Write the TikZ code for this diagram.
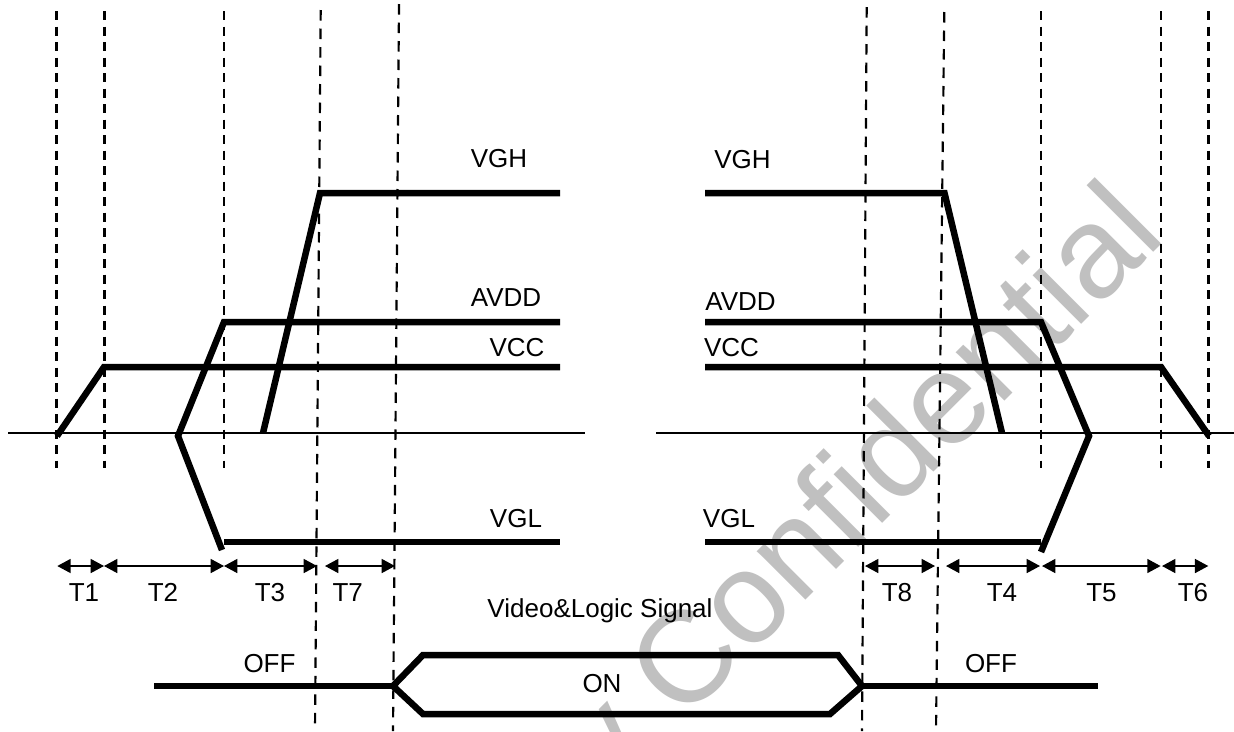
\documentclass[tikz,border=0pt]{standalone}
\usepackage{fontspec}
\setmainfont{Liberation Sans}
\usetikzlibrary{arrows.meta}
\begin{document}
\begin{tikzpicture}[x=0.6pt,y=-0.6pt,
  sig/.style={line width=3.9pt, line join=miter},
  baseln/.style={line width=0.9pt},
  guide/.style={line width=1.3pt, dash pattern=on 5.4pt off 3.9pt},
  longguide/.style={line width=1.3pt, dash pattern=on 6.3pt off 4.8pt},
  span/.style={line width=0.9pt, {Triangle[length=8pt,width=8.4pt]}-{Triangle[length=8pt,width=8.4pt]}},
  lbl/.style={font=\fontsize{15.6}{18}\selectfont, inner sep=0pt, anchor=base},
  wm/.style={font=\fontsize{78}{90}\selectfont, text=wmgray, inner sep=0pt}
]
\definecolor{wmgray}{RGB}{192,192,192}
\fill[white] (0,0) rectangle (1234,731);
\useasboundingbox (0,0) rectangle (1234,731);

% watermark
\begin{scope}
\clip (0,0) rectangle (1234,731);
\node[wm, rotate=45, anchor=base east] (wm) at (1168,238) {y Confidential};
\end{scope}

% short guide lines
\foreach \gx/\gn in {56.5/g1, 104.5/g2, 224/g3, 1040.7/g4, 1161/g5, 1208.5/g6}{
  \coordinate (\gn t) at (\gx,11);
  \coordinate (\gn b) at (\gx,468);
  \draw[guide] (\gn t) -- (\gn b);
}
% long guide lines
\coordinate (L1t) at (320.7,10);  \coordinate (L1b) at (315,731);
\coordinate (L2t) at (399,4);     \coordinate (L2b) at (393,731);
\coordinate (L3t) at (866.7,7);   \coordinate (L3b) at (862,731);
\coordinate (L4t) at (944.3,12);  \coordinate (L4b) at (936,731);
\draw[longguide] (L1t) -- (L1b);
\draw[longguide] (L2t) -- (L2b);
\draw[longguide] (L3t) -- (L3b);
\draw[longguide] (L4t) -- (L4b);

% zero baselines
\coordinate (z1) at (8,433);   \coordinate (z2) at (585,433);
\coordinate (z3) at (656,433); \coordinate (z4) at (1234,433);
\draw[baseln] (z1) -- (z2);
\draw[baseln] (z3) -- (z4);

% power-on waveforms
\draw[sig] (57,436) -- (104,367) -- (560,367);
\draw[sig] (560,322) -- (224,322) -- (178,436) -- (222,550);
\draw[sig] (224,542) -- (560,542);
\draw[sig] (263,433) -- (320,193) -- (560,193);

% power-off waveforms
\draw[sig] (705,193) -- (944.5,193) -- (1002,433);
\draw[sig] (705,322) -- (1041,322) -- (1089,436) -- (1041,552);
\draw[sig] (705,542) -- (1041,542);
\draw[sig] (705,367) -- (1161,367) -- (1209,436);

% video & logic signal
\draw[sig] (154,686) -- (393,686);
\draw[sig] (393,686) -- (423,655) -- (838,655) -- (862,686) -- (830,714) -- (423,714) -- cycle;
\draw[sig] (862,686) -- (1098,686);

% labels
\node[lbl] (vghL) at (499,167) {VGH};
\node[lbl] (avddL) at (506,306) {AVDD};
\node[lbl] (vccL) at (517,356) {VCC};
\node[lbl] (vglL) at (516,527) {VGL};
\node[lbl] (vghR) at (742.5,168) {VGH};
\node[lbl] (avddR) at (740.5,310) {AVDD};
\node[lbl] (vccR) at (731.5,356) {VCC};
\node[lbl] (vglR) at (729,527) {VGL};
\node[lbl] (vls) at (600,617) {Video\&Logic Signal};
\node[lbl] (on) at (602,692) {ON};
\node[lbl] (offL) at (269.5,672) {OFF};
\node[lbl] (offR) at (991,672) {OFF};

% timing spans
\foreach \xa/\xb/\tx/\tn in {57.3/104/84/T1, 104/224/163/T2, 224/317/270/T3, 325/395/347.7/T7,
  865/935/897/T8, 946/1040/1002/T4, 1042/1160.6/1101.5/T5, 1162/1208.3/1193/T6}{
  \coordinate (\tn a) at (\xa,566);
  \coordinate (\tn b) at (\xb,566);
  \draw[span] (\tn a) -- (\tn b);
  \node[lbl] (\tn) at (\tx,601) {\tn};
}
\end{tikzpicture}
\end{document}
